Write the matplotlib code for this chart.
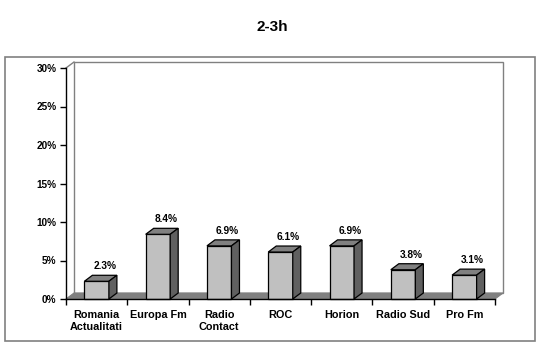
import matplotlib
matplotlib.use("Agg")
import matplotlib.pyplot as plt
from matplotlib.patches import Polygon, Rectangle
import numpy as np

categories = ["Romania\nActualitati", "Europa Fm", "Radio\nContact", "ROC", "Horion", "Radio Sud", "Pro Fm"]
values = [2.3, 8.4, 6.9, 6.1, 6.9, 3.8, 3.1]
value_labels = ["2.3%", "8.4%", "6.9%", "6.1%", "6.9%", "3.8%", "3.1%"]
yticks = [0, 5, 10, 15, 20, 25, 30]
ytick_labels = ["0%", "5%", "10%", "15%", "20%", "25%", "30%"]
title = "2-3h"

W, H = 544, 357
plt.rcParams['font.family'] = ['Liberation Sans', 'DejaVu Sans']
fig = plt.figure(figsize=(W / 100, H / 100), dpi=100)
fig.patch.set_facecolor("white")

# outer frame
fig.patches.append(Rectangle((5 / W, 1 - 341 / H), 530 / W, 284 / H, transform=fig.transFigure,
                             fill=False, edgecolor="#808080", linewidth=1.2))
fig.text(272 / W, 1 - 27 / H, title, ha="center", va="center", fontsize=11, fontweight="bold")

left, right, bottom, top = 66, 495, 299, 68
ax = fig.add_axes([left / W, 1 - bottom / H, (right - left) / W, (bottom - top) / H])
n = len(categories)
ax.set_xlim(-0.5, n - 0.5)
ax.set_ylim(0, 30)
ax.patch.set_alpha(0)

px_x = (right - left) / n
px_y = (bottom - top) / 30
ddx = 8 / px_x
ddy = 6 / px_y

# back wall
x0, x1 = -0.5, n - 0.5
wall = Polygon([(x0 + ddx, ddy), (x0 + ddx, 30 + ddy), (x1 + ddx, 30 + ddy), (x1 + ddx, ddy)],
               closed=True, facecolor="white", edgecolor="#808080", linewidth=1, clip_on=False, zorder=0)
ax.add_patch(wall)
ax.plot([x0, x0 + ddx], [30, 30 + ddy], color="#808080", linewidth=1, clip_on=False, zorder=1)
# floor
floor = Polygon([(x0, 0), (x1, 0), (x1 + ddx, ddy), (x0 + ddx, ddy)], closed=True,
                facecolor="#808080", edgecolor="#808080", linewidth=0.8, clip_on=False, zorder=1)
ax.add_patch(floor)

bw = 0.4
for i, v in enumerate(values):
    xl, xr = i - bw / 2, i + bw / 2
    front = Polygon([(xl, 0), (xr, 0), (xr, v), (xl, v)], closed=True,
                    facecolor="#C0C0C0", edgecolor="black", linewidth=0.9, clip_on=False, zorder=3)
    topf = Polygon([(xl, v), (xr, v), (xr + ddx, v + ddy), (xl + ddx, v + ddy)], closed=True,
                   facecolor="#808080", edgecolor="black", linewidth=0.9, clip_on=False, zorder=3)
    side = Polygon([(xr, 0), (xr + ddx, ddy), (xr + ddx, v + ddy), (xr, v)], closed=True,
                   facecolor="#606060", edgecolor="black", linewidth=0.9, clip_on=False, zorder=3)
    for p in (front, topf, side):
        ax.add_patch(p)
    ax.text(i + ddx, v + ddy + 4 / px_y, value_labels[i], ha="center", va="bottom",
            fontsize=7.3, fontweight="bold", zorder=4)

for s in ("top", "right"):
    ax.spines[s].set_visible(False)
for s in ("left", "bottom"):
    ax.spines[s].set_color("black")
    ax.spines[s].set_linewidth(1)
    ax.spines[s].set_zorder(5)

ax.set_yticks(yticks)
ax.set_yticklabels(ytick_labels, fontsize=7.2, fontweight="bold")
ax.tick_params(axis="y", length=4, width=1, pad=3)

ax.set_xticks(np.arange(-0.5, n, 1.0))
ax.set_xticklabels([])
ax.tick_params(axis="x", which="major", length=4, width=1)
ax.set_xticks(np.arange(n), minor=True)
ax.set_xticklabels(categories, minor=True, fontsize=7.8, fontweight="bold", linespacing=1.2)
ax.tick_params(axis="x", which="minor", length=0, pad=8)

fig.savefig("out.png", dpi=100, facecolor="white")
